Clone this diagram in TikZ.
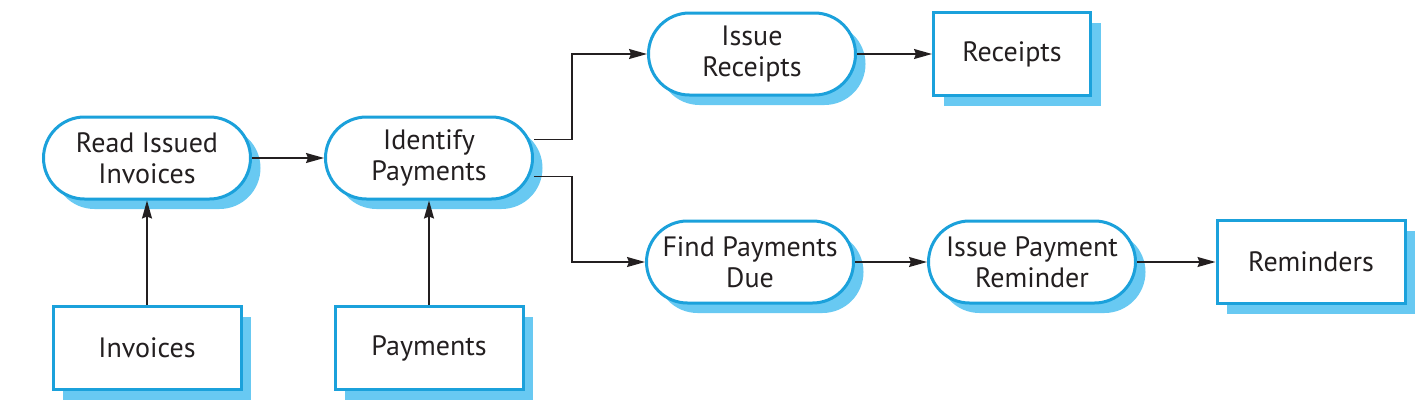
\documentclass[tikz,border=0pt]{standalone}
\usepackage{fontspec}
\setmainfont{PT Sans}
\usetikzlibrary{shadows,arrows.meta}

\definecolor{procblue}{RGB}{27,161,219}
\definecolor{shadeblue}{RGB}{104,201,242}
\definecolor{inkgray}{RGB}{35,31,32}

\tikzset{
  boxbase/.style={draw=procblue, line width=1.5pt, fill=white, align=center,
    inner sep=2pt, text=inkgray, font=\fontsize{14}{15.5}\selectfont,
    drop shadow={shadow xshift=5pt, shadow yshift=-5pt, fill=shadeblue, opacity=1}},
  proc/.style={boxbase, rectangle, rounded corners=20.5pt,
    minimum width=103.5pt, minimum height=41pt},
  store/.style={boxbase, rectangle, minimum width=94pt, minimum height=41.5pt},
  flow/.style={draw=inkgray, line width=0.75pt,
    -{Stealth[length=9pt,width=5pt,inset=1pt]}}
}

\begin{document}
\begin{tikzpicture}[x=0.5pt,y=-0.5pt]
\useasboundingbox (0,0) rectangle (1428,418);

\node[proc] (rii) at (147,158) {Read Issued\\Invoices};
\node[proc] (idp) at (429,158) {Identify\\Payments};
\node[proc] (isr) at (752,54) {Issue\\Receipts};
\node[proc] (fpd) at (750,262) {Find Payments\\Due};
\node[proc] (ipr) at (1032,262) {Issue Payment\\Reminder};

\node[store] (inv) at (147,348) {Invoices};
\node[store] (pay) at (429,348) {Payments};
\node[store, minimum width=78.5pt] (rcp) at (1012,54) {Receipts};
\node[store] (rem) at (1311,262) {Reminders};

\draw[flow] (inv) -- (rii);
\draw[flow] (pay) -- (idp);
\draw[flow] (rii) -- (idp);
\draw[flow] (idp.10) -- ++(19pt,0) |- (isr.west);
\draw[flow] (idp.-10) -- ++(19pt,0) |- (fpd.west);
\draw[flow] (isr) -- (rcp);
\draw[flow] (fpd) -- (ipr);
\draw[flow] (ipr) -- (rem);

\end{tikzpicture}
\end{document}
